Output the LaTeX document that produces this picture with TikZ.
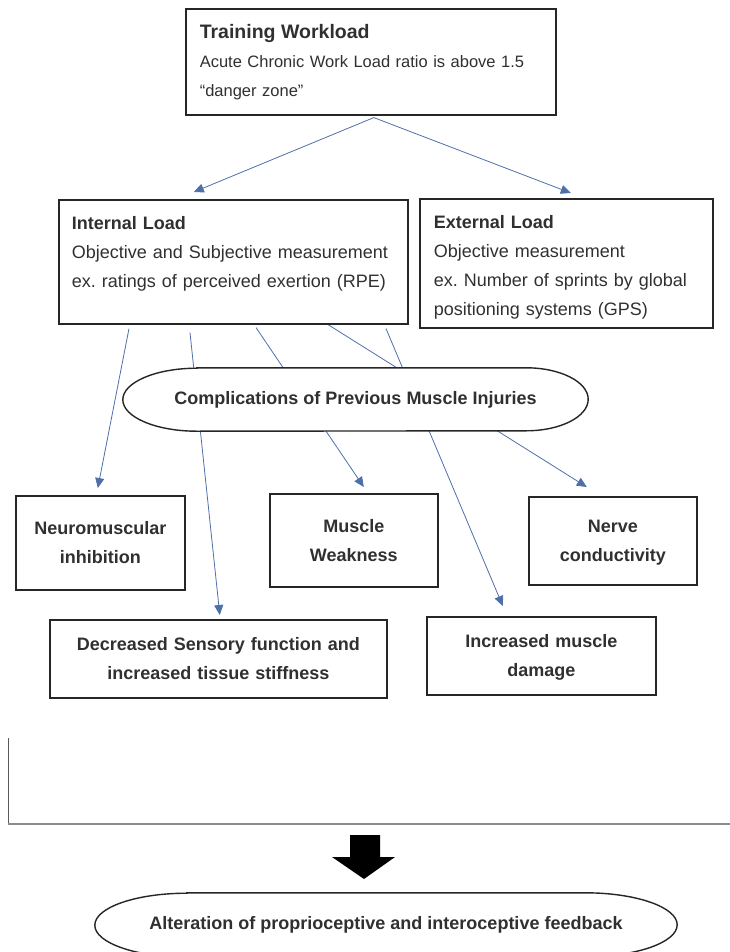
\documentclass[tikz,border=0pt]{standalone}
\usepackage{fontspec}
\setmainfont{Liberation Sans}
\usetikzlibrary{arrows.meta,backgrounds}
\frenchspacing

\definecolor{linkblue}{HTML}{4F6FA8}
\definecolor{boxline}{HTML}{262626}
\definecolor{inkgray}{HTML}{303030}

\tikzset{
  infobox/.style={draw=boxline,line width=1.6pt,anchor=north west,inner xsep=14pt,inner ysep=0pt,align=left,text=inkgray},
  effectbox/.style={draw=boxline,line width=1.6pt,anchor=north west,inner sep=0pt,align=center,text=inkgray,font=\fontsize{18}{29}\selectfont\bfseries},
  ovalnode/.style={inner sep=0pt,text=inkgray,font=\fontsize{18}{22}\selectfont\bfseries},
  ovalline/.style={draw=boxline,line width=1.4pt,fill=white},
  link/.style={draw=linkblue,line width=0.8pt,-{Triangle[length=10pt,width=9pt]}},
}

\begin{document}
\begin{tikzpicture}[x=1pt,y=-1pt]
  \useasboundingbox (0,0) rectangle (730,952);
  \clip (0,0) rectangle (730,952);

  % load boxes
  \node[infobox,text width=342pt,text height=30pt,text depth=76pt,
    font=\fontsize{16.5}{29}\selectfont] (TW) at (185,8) {
    {\fontsize{19.5}{29}\selectfont\bfseries Training Workload}\\
    Acute Chronic Work Load ratio is above 1.5\\
    ``danger zone''};
  \node[infobox,inner xsep=13pt,text width=323pt,text height=29.5pt,text depth=94.5pt,
    font=\fontsize{18}{29}\selectfont] (IL) at (58,199) {
    \textbf{Internal Load}\\
    Objective and Subjective measurement\\
    ex. ratings of perceived exertion (RPE)};
  \node[infobox,text width=265pt,text height=29.5pt,text depth=99.5pt,
    font=\fontsize{18}{29}\selectfont] (EL) at (419,198) {
    \textbf{External Load}\\
    Objective measurement\\
    ex. Number of sprints by global\\
    positioning systems (GPS)};

  % effects
  \node[effectbox,text width=169pt,text height=39pt,text depth=55pt] (NM) at (15,495) {Neuromuscular\\inhibition};
  \node[effectbox,text width=168pt,text height=38.5pt,text depth=54.5pt] (MW) at (269,493) {Muscle\\Weakness};
  \node[effectbox,text width=168pt,text height=36pt,text depth=52pt] (NC) at (528,496) {Nerve\\conductivity};
  \node[effectbox,text width=337pt,text height=31pt,text depth=47pt] (DS) at (49,619) {Decreased Sensory function and\\increased tissue stiffness};
  \node[effectbox,text width=229pt,text height=31pt,text depth=47pt] (IM) at (426,616) {Increased muscle\\damage};

  % ovals
  \node[ovalnode,minimum width=465pt,minimum height=63pt] (CP) at (355.5,399.5) {Complications of Previous Muscle Injuries};
  \node[ovalnode,minimum width=582pt,minimum height=64pt] (AF) at (386,925) {Alteration of proprioceptive and interoceptive feedback};

  \begin{scope}[on background layer]
    \path[link] ([xshift=3pt,yshift=-2pt]TW.south) -- ([xshift=-39.5pt,yshift=7pt]IL.north);
    \path[link] ([xshift=3pt,yshift=-2pt]TW.south) -- ([xshift=4.5pt,yshift=5pt]EL.north);
    \path[link] ([xshift=71pt,yshift=-4pt]IL.south west) -- ([xshift=-2.5pt,yshift=7pt]NM.north);
    \path[link] ([xshift=132pt,yshift=-8pt]IL.south west) -- ([xshift=1.5pt,yshift=4pt]DS.north);
    \path[link] ([xshift=198pt,yshift=-3pt]IL.south west) -- ([xshift=10pt,yshift=6pt]MW.north);
    \path[link] ([xshift=270pt]IL.south west) -- ([xshift=-26pt,yshift=9pt]NC.north);
    \path[link] ([xshift=328pt,yshift=-4pt]IL.south west) -- ([xshift=-38.5pt,yshift=10pt]IM.north);
    \draw[ovalline] ([xshift=74pt]CP.north west) -- ([xshift=-62pt]CP.north east)
      arc[start angle=90,end angle=-90,x radius=62pt,y radius=31.5pt]
      -- ([xshift=74pt]CP.south west)
      arc[start angle=270,end angle=90,x radius=74pt,y radius=31.5pt] -- cycle;
    \draw[ovalline] ([xshift=92pt]AF.north west) -- ([xshift=-92pt]AF.north east)
      arc[start angle=90,end angle=-90,x radius=92pt,y radius=32pt]
      -- ([xshift=92pt]AF.south west)
      arc[start angle=270,end angle=90,x radius=92pt,y radius=32pt] -- cycle;
  \end{scope}

  % frame remains and big arrow
  \draw[black!65,line width=1pt] (8,738) -- (8,825);
  \draw[black!45,line width=1.5pt] (8,824) -- (730,824);
  \fill[black] (350,835) -- (380,835) -- (380,857) -- (395,857) -- (364,879)
    -- (332,857) -- (350,857) -- cycle;
\end{tikzpicture}
\end{document}
